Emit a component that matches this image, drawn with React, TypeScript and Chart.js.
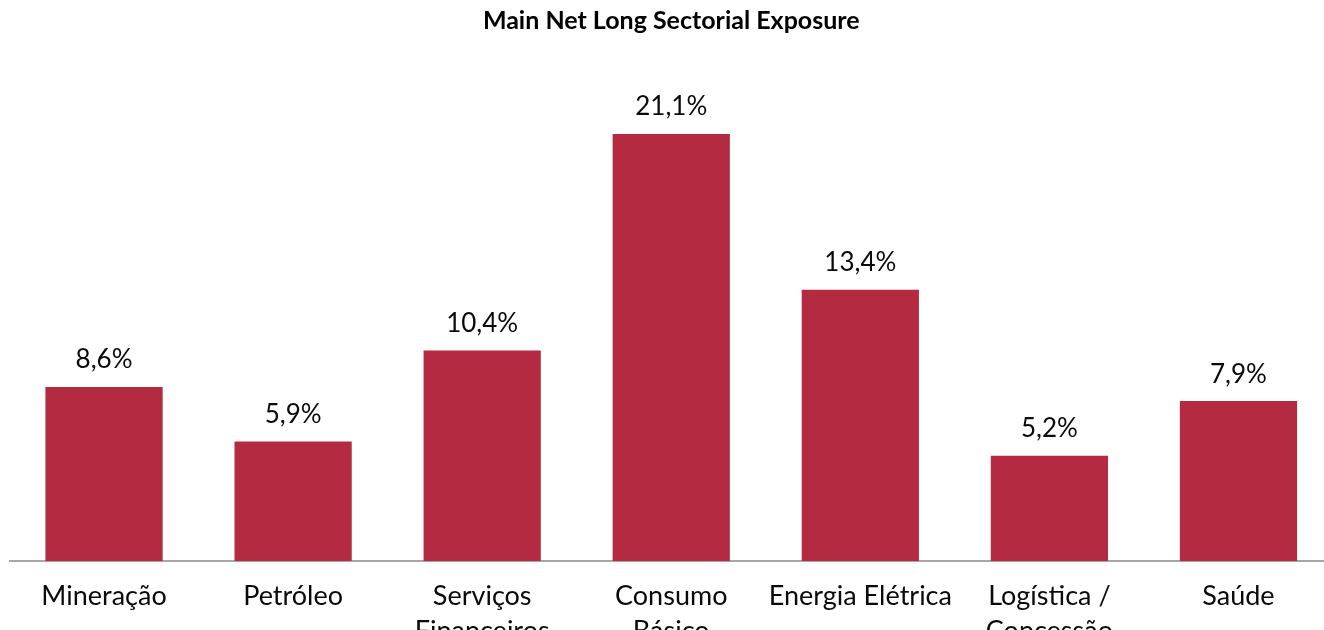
import React, { useEffect, useRef } from "react";
import { Chart, registerables } from "chart.js";

Chart.register(...registerables);

const categories: (string | string[])[] = [
  "Mineração",
  "Petróleo",
  ["Serviços", "Financeiros"],
  ["Consumo", "Básico"],
  "Energia Elétrica",
  ["Logística /", "Concessão"],
  "Saúde",
];
const exposure: number[] = [8.6, 5.9, 10.4, 21.1, 13.4, 5.2, 7.9];
const titleText = "Main Net Long Sectorial Exposure";
const barColor = "#B32A41";
const FONT = "Lato, 'Open Sans', sans-serif";

const valueLabels = {
  id: "valueLabels",
  afterDatasetsDraw(chart: any) {
    const { ctx } = chart;
    const meta = chart.getDatasetMeta(0);
    ctx.save();
    ctx.font = `26px ${FONT}`;
    ctx.fillStyle = "#0a0a0a";
    ctx.textAlign = "center";
    ctx.textBaseline = "alphabetic";
    meta.data.forEach((bar: any, i: number) => {
      const v = exposure[i];
      const txt = v.toFixed(1).replace(".", ",") + "%";
      ctx.fillText(txt, bar.x, bar.y - 18.5);
    });
    ctx.restore();
  },
};

export default function App() {
  const ref = useRef<HTMLCanvasElement>(null);
  useEffect(() => {
    if (!ref.current) return;
    const chart = new Chart(ref.current, {
      type: "bar",
      data: {
        labels: categories,
        datasets: [
          {
            data: exposure,
            backgroundColor: barColor,
            categoryPercentage: 1,
            barPercentage: 0.62,
          },
        ],
      },
      options: {
        responsive: false,
        animation: false,
        layout: { padding: { left: 1.5, right: 0, top: 0, bottom: 0 } },
        plugins: {
          legend: { display: false },
          tooltip: { enabled: false },
          title: {
            display: true,
            text: titleText,
            color: "#000",
            font: { family: FONT, size: 25, weight: "bold", lineHeight: 1.2 },
            padding: { top: 6, bottom: 19 },
          },
        },
        scales: {
          x: {
            grid: { display: false },
            border: { display: true, color: "#A6A6A6", width: 2 },
            ticks: {
              color: "#0a0a0a",
              font: { family: FONT, size: 27, lineHeight: 1.3 },
              padding: 10,
              maxRotation: 0,
              autoSkip: false,
            },
            afterFit(scale: any) {
              scale.height = 79;
            },
          },
          y: {
            display: false,
            min: 0,
            max: 25,
          },
        },
      },
      plugins: [valueLabels],
    });
    return () => chart.destroy();
  }, []);
  return (
    <div
      style={{
        position: "fixed",
        left: 0,
        top: 0,
        width: "100vw",
        height: "100vh",
        overflow: "hidden",
        background: "#fff",
      }}
    >
      <canvas
        ref={ref}
        width={1325}
        height={640}
        style={{ position: "absolute", left: 8, top: 0, width: 1325, height: 640 }}
      />
    </div>
  );
}
